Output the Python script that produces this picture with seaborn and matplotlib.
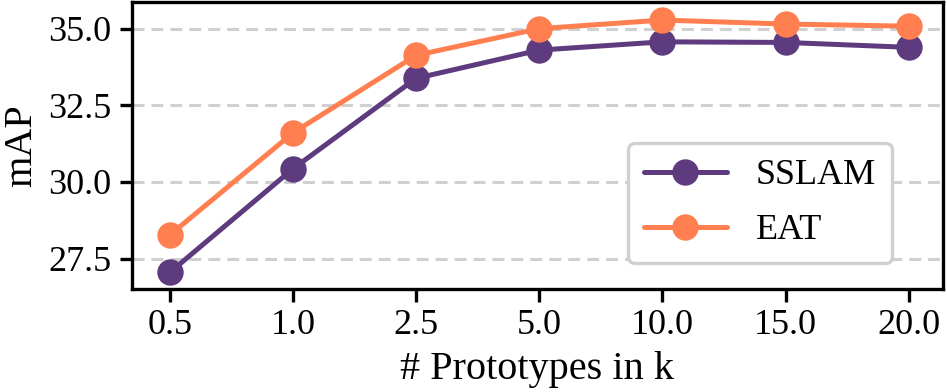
import matplotlib
matplotlib.use("Agg")
import matplotlib.pyplot as plt
import pandas as pd
import seaborn as sb

# Values
prototypes = ["0.5", "1.0", "2.5", "5.0", "10.0", "15.0", "20.0"]
sslam = [27.05, 30.43, 33.38, 34.30, 34.57, 34.55, 34.39]
eat = [28.27, 31.60, 34.13, 35.00, 35.28, 35.15, 35.08]
colours = ["#5E3A7E", "#FF7F50"]

df = pd.DataFrame({
    "idx": list(range(len(prototypes))) * 2,
    "mAP": sslam + eat,
    "model": ["SSLAM"] * len(sslam) + ["EAT"] * len(eat),
})

sb.set_style("ticks")
plt.rcParams["font.family"] = ["Liberation Serif", "DejaVu Serif"]
plt.rcParams["text.color"] = "black"
plt.rcParams["axes.labelcolor"] = "black"

fig, ax = plt.subplots(figsize=(9.47, 3.92), dpi=100)
sb.lineplot(data=df, x="idx", y="mAP", hue="model", palette=colours,
            marker="o", markersize=19, markeredgewidth=0, linewidth=3.6, ax=ax)

ax.set_xticks(range(len(prototypes)))
ax.set_xticklabels(prototypes)
ax.set_xlim(-0.31, 6.28)
ax.set_ylim(26.5, 35.87)
ax.set_yticks([27.5, 30.0, 32.5, 35.0])
ax.yaxis.grid(True, linestyle=(0, (3.9, 2.3)), color="#d0d0d0", linewidth=2.2)
ax.set_axisbelow(True)
ax.tick_params(labelsize=26, width=2.4, length=9, pad=5.5, colors="black")
for s in ax.spines.values():
    s.set_linewidth(2.4)
    s.set_color("black")
ax.set_xlabel("# Prototypes in k", fontsize=29, labelpad=6)
ax.set_ylabel("mAP", fontsize=29, labelpad=6)

leg = ax.legend(loc="lower right", fontsize=26, title=None, fancybox=True,
                framealpha=1, handlelength=2.3, borderpad=0.45,
                labelspacing=0.6, borderaxespad=0,
                bbox_to_anchor=(0.937, 0.09))
leg.get_frame().set_edgecolor("#d0d0d0")
leg.get_frame().set_linewidth(2.4)

plt.subplots_adjust(left=0.139, right=0.996, top=0.995, bottom=0.262)
plt.savefig("out.png", dpi=100)
